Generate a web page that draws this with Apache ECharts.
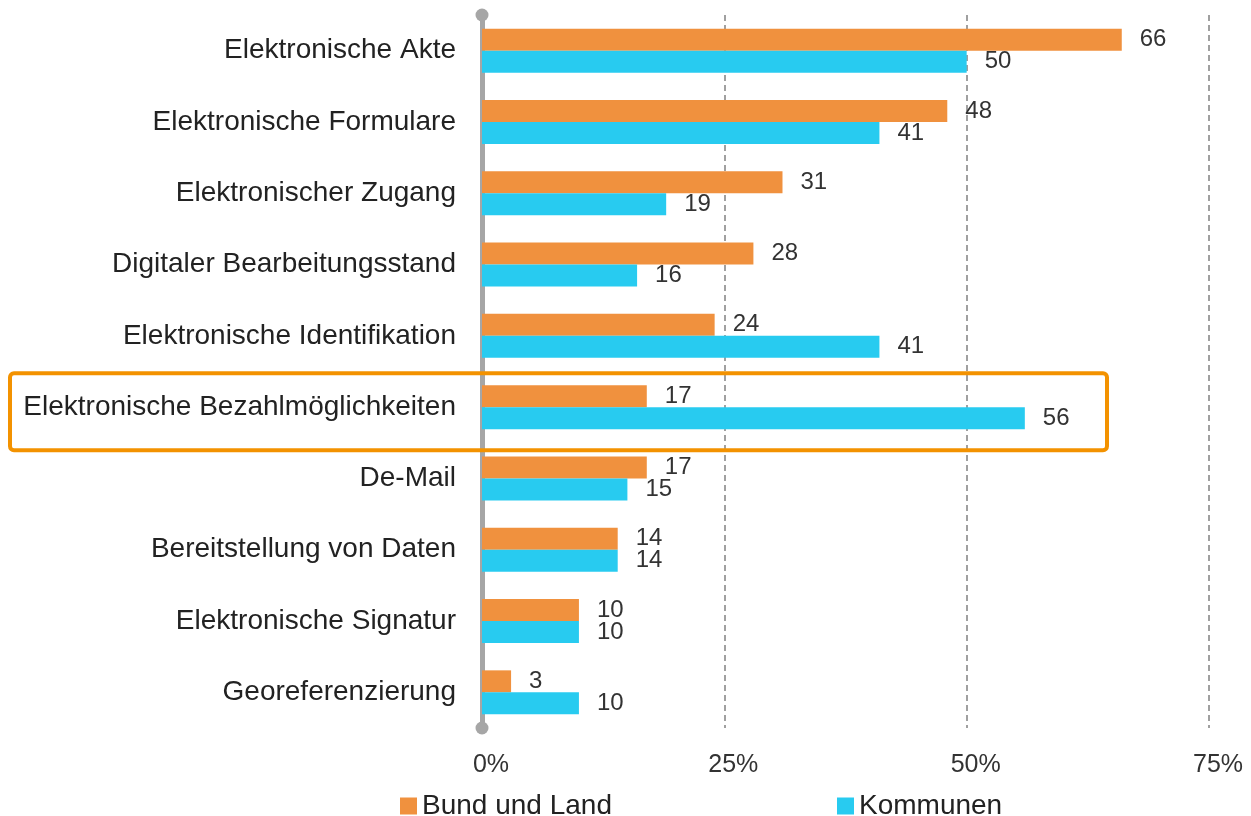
<!DOCTYPE html>
<html>
<head>
<meta charset="utf-8">
<script src="https://cdn.jsdelivr.net/npm/echarts@6/dist/echarts.min.js"></script>
<style>html,body{margin:0;padding:0;background:#fff;}#c{width:1251px;height:816px;}</style>
</head>
<body>
<div id="c"></div>
<script>
const categories = [
  'Elektronische Akte',
  'Elektronische Formulare',
  'Elektronischer Zugang',
  'Digitaler Bearbeitungsstand',
  'Elektronische Identifikation',
  'Elektronische Bezahlmöglichkeiten',
  'De-Mail',
  'Bereitstellung von Daten',
  'Elektronische Signatur',
  'Georeferenzierung'
];
const bundUndLand = [66, 48, 31, 28, 24, 17, 17, 14, 10, 3];
const kommunen = [50, 41, 19, 16, 41, 56, 15, 14, 10, 10];
const xTicks = [0, 25, 50, 75];
const highlighted = 'Elektronische Bezahlmöglichkeiten';

const FONT = 'Liberation Sans, Arial, sans-serif';
const chart = echarts.init(document.getElementById('c'), null, {renderer: 'canvas'});
const valueLabel = {
  show: true, position: 'right', distance: 18,
  fontFamily: FONT, fontSize: 24, color: '#333', padding: [4, 0, 0, 0]
};
const legendText = {fontFamily: FONT, fontSize: 28, color: '#222'};
chart.setOption({
  animation: false,
  grid: {left: 482, right: 42, top: 15, bottom: 88, containLabel: false},
  legend: [
    {left: 395, top: 787, itemWidth: 17, itemHeight: 17, itemGap: 6, icon: 'rect', textStyle: legendText, data: ['Bund und Land']},
    {left: 832, top: 787, itemWidth: 17, itemHeight: 17, itemGap: 6, icon: 'rect', textStyle: legendText, data: ['Kommunen']}
  ],
  xAxis: {
    type: 'value', min: xTicks[0], max: xTicks[xTicks.length - 1], interval: 25,
    axisLine: {show: false}, axisTick: {show: false},
    axisLabel: {formatter: '{value}%', fontFamily: FONT, fontSize: 25, color: '#333', margin: 25, padding: [0, 0, 0, 18]},
    splitLine: {show: true, lineStyle: {type: [6, 4], color: '#a0a0a0', width: 2}}
  },
  yAxis: {
    type: 'category', inverse: true, data: categories,
    axisTick: {show: false},
    axisLine: {show: true, lineStyle: {color: '#a6a6a6', width: 5}, symbol: ['circle', 'circle'], symbolSize: [13, 13]},
    axisLabel: {fontFamily: FONT, fontSize: 28, color: '#222', margin: 26, padding: [6, 0, 0, 0]}
  },
  series: [
    {name: 'Bund und Land', type: 'bar', data: bundUndLand, barWidth: 22, barGap: '0%',
     itemStyle: {color: '#F0913E'}, label: valueLabel},
    {name: 'Kommunen', type: 'bar', data: kommunen, barWidth: 22, barGap: '0%',
     itemStyle: {color: '#28CBF0'}, label: valueLabel}
  ]
});
const cy = chart.convertToPixel({yAxisIndex: 0}, highlighted);
chart.setOption({
  graphic: [{
    type: 'rect', z: 100,
    shape: {x: 10, y: cy - 34, width: 1097, height: 77, r: 4},
    style: {fill: 'none', stroke: '#F39200', lineWidth: 4}
  }]
});
</script>
</body>
</html>
